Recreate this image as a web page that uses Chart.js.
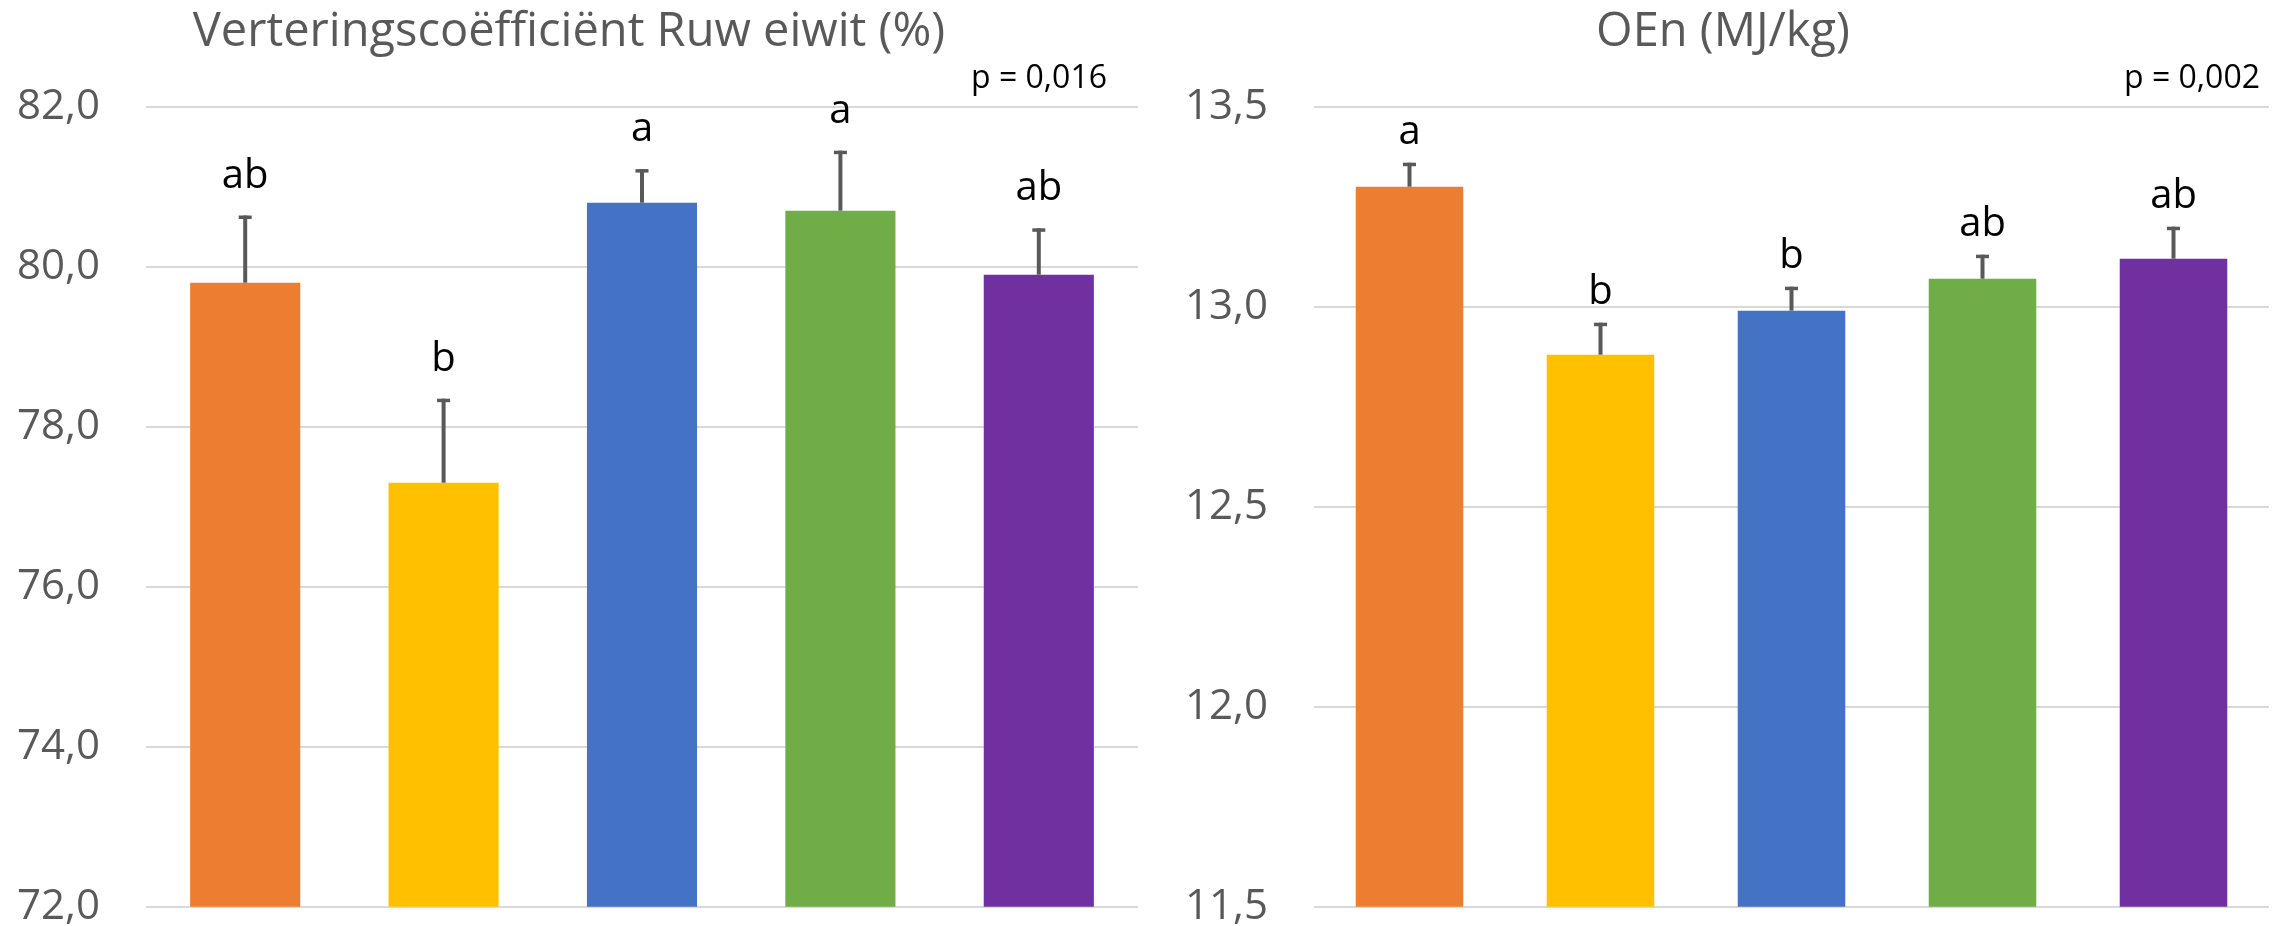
<!DOCTYPE html>
<html>
<head>
<meta charset="utf-8">
<script src="https://cdn.jsdelivr.net/npm/chart.js@4.4.1/dist/chart.umd.min.js"></script>
<style>
  html, body { margin: 0; padding: 0; background: #ffffff; }
  #wrap { position: relative; width: 2290px; height: 926px; overflow: hidden; background: #ffffff; }
  #c1 { position: absolute; left: 0; top: 0; }
  #c2 { position: absolute; left: 1177px; top: 0; }
</style>
</head>
<body>
<div id="wrap">
  <canvas id="c1" width="1166" height="926"></canvas>
  <canvas id="c2" width="1113" height="926"></canvas>
</div>
<script>
// ---- data ----
const categories = ['Behandeling 1', 'Behandeling 2', 'Behandeling 3', 'Behandeling 4', 'Behandeling 5'];
const barColors = ['#ED7D31', '#FFC000', '#4472C4', '#70AD47', '#7030A0'];

const ruwEiwitTitle = 'Verteringscoëfficiënt Ruw eiwit (%)';
const ruwEiwitValues = [79.80, 77.30, 80.80, 80.70, 79.90];
const ruwEiwitErrors = [0.84, 1.05, 0.42, 0.75, 0.58];
const ruwEiwitLetters = ['ab', 'b', 'a', 'a', 'ab'];
const ruwEiwitP = 'p = 0,016';
const ruwEiwitAxis = [72, 82, 2];   // min, max, step

const oenTitle = 'OEn (MJ/kg)';
const oenValues = [13.30, 12.88, 12.99, 13.07, 13.12];
const oenErrors = [0.06, 0.08, 0.06, 0.06, 0.08];
const oenLetters = ['a', 'b', 'b', 'ab', 'ab'];
const oenP = 'p = 0,002';
const oenAxis = [11.5, 13.5, 0.5];

const FONT = '"Open Sans", "DejaVu Sans", sans-serif';

function makeAnnotPlugin(errors, letters, pText, gap, pOffset) {
  return {
    id: 'annot',
    afterDatasetsDraw(chart) {
      const ctx = chart.ctx;
      const meta = chart.getDatasetMeta(0);
      const y = chart.scales.y;
      const vals = chart.data.datasets[0].data;
      ctx.save();
      meta.data.forEach((bar, i) => {
        const top = y.getPixelForValue(vals[i]);
        const et = y.getPixelForValue(vals[i] + errors[i]);
        ctx.strokeStyle = '#595959';
        ctx.lineWidth = 4;
        ctx.beginPath();
        ctx.moveTo(bar.x, top);
        ctx.lineTo(bar.x, et);
        ctx.stroke();
        ctx.lineWidth = 3.5;
        ctx.beginPath();
        ctx.moveTo(bar.x - 6.5, et + 1.75);
        ctx.lineTo(bar.x + 6.5, et + 1.75);
        ctx.stroke();
        ctx.fillStyle = '#000000';
        ctx.font = '40px ' + FONT;
        ctx.textAlign = 'center';
        ctx.textBaseline = 'alphabetic';
        ctx.fillText(letters[i], bar.x, et - gap);
      });
      ctx.fillStyle = '#000000';
      ctx.font = '32px ' + FONT;
      ctx.textAlign = 'right';
      ctx.textBaseline = 'alphabetic';
      ctx.fillText(pText, chart.chartArea.right - pOffset, chart.chartArea.top - 19);
      ctx.restore();
    }
  };
}

function makeChart(id, title, values, errors, letters, pText, axis, yWidth, rightPad, barPct, gap, pOffset) {
  return new Chart(document.getElementById(id), {
    type: 'bar',
    data: {
      labels: categories,
      datasets: [{
        data: values,
        backgroundColor: barColors,
        borderWidth: 0,
        barPercentage: barPct,
        categoryPercentage: 1
      }]
    },
    options: {
      responsive: false,
      animation: false,
      devicePixelRatio: 1,
      layout: { padding: { left: 0, right: rightPad, top: 0, bottom: 19.3 } },
      plugins: {
        legend: { display: false },
        tooltip: { enabled: false },
        title: {
          display: true,
          text: title,
          color: '#595959',
          font: { family: FONT, size: 47, weight: 'normal', lineHeight: 1.2 },
          padding: { top: 4, bottom: 46.3 }
        }
      },
      scales: {
        x: { display: false },
        y: {
          min: axis[0],
          max: axis[1],
          border: { display: false },
          grid: { color: '#D9D9D9', lineWidth: 2, drawTicks: false },
          ticks: {
            stepSize: axis[2],
            padding: 46,
            color: '#595959',
            font: { family: FONT, size: 42, lineHeight: 1 },
            callback: v => Number(v).toFixed(1).replace('.', ',')
          },
          afterFit(s) { s.width = yWidth; s.paddingTop = 0; s.paddingBottom = 0; }
        }
      }
    },
    plugins: [makeAnnotPlugin(errors, letters, pText, gap, pOffset)]
  });
}

makeChart('c1', ruwEiwitTitle, ruwEiwitValues, ruwEiwitErrors, ruwEiwitLetters, ruwEiwitP, ruwEiwitAxis, 146, 28, 0.555, 28, 31);
makeChart('c2', oenTitle, oenValues, oenErrors, oenLetters, oenP, oenAxis, 137, 21, 0.563, 19, 9);
</script>
</body>
</html>
